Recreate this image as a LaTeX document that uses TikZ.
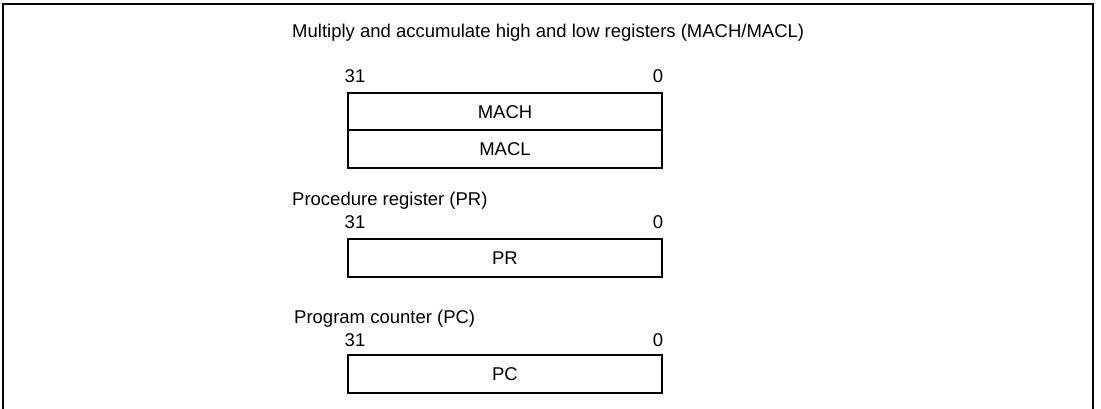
\documentclass[tikz,border=0pt]{standalone}
\usepackage{fontspec}
\setmainfont{Liberation Sans}
\usetikzlibrary{positioning}

\begin{document}
\begin{tikzpicture}[x=1pt,y=-1pt, every node/.style={font=\fontsize{18.5}{20}\selectfont,inner sep=0pt},
reg/.style={draw,line width=2pt,outer sep=0pt,minimum width=314pt,minimum height=37.5pt,anchor=north west},
bit/.style={anchor=base}]
\useasboundingbox (0,0) rectangle (1101,409);
\draw[line width=2pt] (3,409)--(3,4)--(1093,4)--(1093,409);
% MACH/MACL
\node[anchor=base west] (ttl) at (292,38) {Multiply and accumulate high and low registers (MACH/MACL)};
\node[reg] (mach) at (348,93) {MACH};
\node[reg,below=0pt of mach] (macl) {MACL};
\node[bit] (machhi) at (355,83) {31};
\node[bit] (machlo) at (658,83) {0};
% PR
\node[anchor=base west] (prttl) at (292,206) {Procedure register (PR)};
\node[reg] (pr) at (348,239) {PR};
\node[bit] (prhi) at (355,229) {31};
\node[bit] (prlo) at (658,229) {0};
% PC
\node[anchor=base west] (pcttl) at (294,323) {Program counter (PC)};
\node[reg] (pc) at (348,355) {PC};
\node[bit] (pchi) at (355,346) {31};
\node[bit] (pclo) at (658,346) {0};
\end{tikzpicture}
\end{document}
